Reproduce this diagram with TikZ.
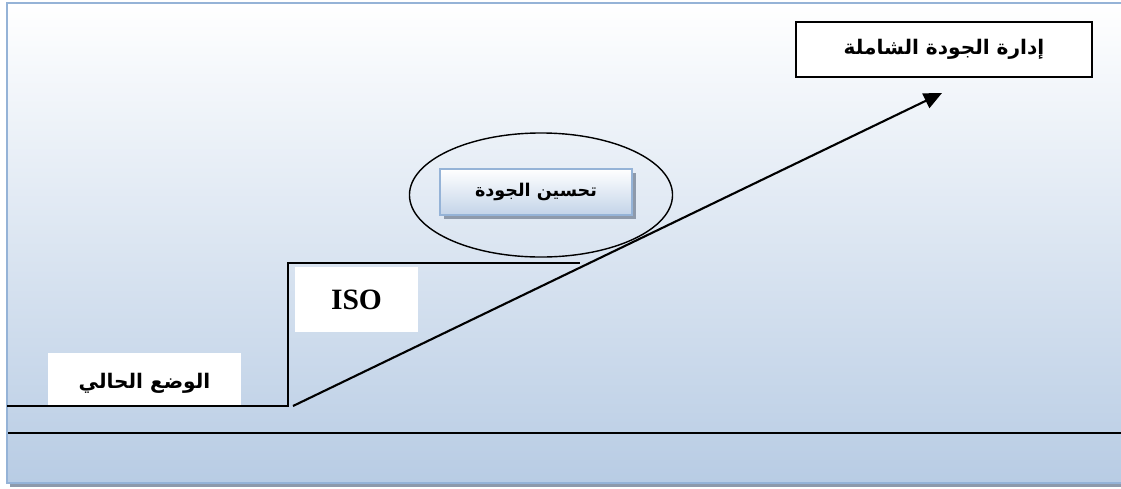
\documentclass[tikz,border=0pt]{standalone}
\usepackage{fontspec}
\setmainfont{Liberation Serif}
\newfontfamily\arabicfont[Script=Arabic]{DejaVu Sans}
\TeXXeTstate=1
\usetikzlibrary{positioning, arrows.meta, shadows, shapes.geometric}
\definecolor{panelblue}{HTML}{B8CCE4}
\definecolor{panelborder}{HTML}{95B3D7}
\definecolor{shadowgray}{HTML}{8E9AAB}
\tikzstyle{textbox} = [rectangle, fill=white, inner sep=0pt]
\tikzstyle{goal} = [rectangle, draw, line width=1.2pt, fill=white, minimum width=7.4cm, minimum height=1.375cm]
\tikzstyle{bubble} = [ellipse, draw, line width=1pt, minimum width=6.575cm, minimum height=3.1cm]
\tikzstyle{tag} = [rectangle, draw=panelborder, line width=1.5pt, top color=white, bottom color=panelblue!85,
  minimum width=4.8cm, minimum height=1.15cm,
  drop shadow={shadow xshift=3pt, shadow yshift=-3pt, fill=shadowgray, opacity=1}]
\tikzstyle{stairs} = [line width=1.5pt]
\tikzstyle{arrow} = [line width=1.5pt, -{Triangle[length=0.45cm, width=0.4cm]}]
\newcommand{\artext}[2][14.3]{{\arabicfont\bfseries\fontsize{#1}{16}\selectfont\beginR #2\endR}}

\begin{document}
\begin{tikzpicture}[x=0.025cm, y=-0.025cm]

  \useasboundingbox (0,0) rectangle (1121,488);

  % Background panel
  \fill[shadowgray] (10,6) rectangle (1130,487);
  \shade[top color=white, bottom color=panelblue, draw=panelborder, line width=2pt] (7,3) rectangle (1130,483);

  % Bottom line
  \coordinate (ground_l) at (8,433);
  \coordinate (ground_r) at (1121,433);
  \draw[line width=1.5pt] (ground_l) -- (ground_r);

  % Stair steps
  \coordinate (now_l) at (7,406);
  \coordinate (now_r) at (288,406);
  \coordinate (iso_l) at (288,263);
  \coordinate (iso_r) at (580,263);
  \draw[stairs] (now_l) -- (now_r) -- (iso_l) -- (iso_r);

  % Labels
  \node (now) [textbox, minimum width=4.825cm, minimum height=1.3cm] at (144.5,379) {};
  \node (now_text) at (144.5,383) {\artext{الوضع الحالي}};
  \node (iso) [textbox, minimum width=3.075cm, minimum height=1.625cm] at (356.5,299.5) {\fontsize{21}{24}\selectfont\bfseries ISO};

  % Improvement
  \node (improve_ring) [bubble] at (541,195) {};
  \node (improve) [tag] at (536,192) {\artext[12.5]{تحسين الجودة}};

  % Goal
  \node (tqm) [goal] at (944,49.5) {\artext{إدارة الجودة الشاملة}};

  % Arrow
  \coordinate (rise_start) at (293,406);
  \coordinate (rise_end) at (942,93);
  \draw[arrow] (rise_start) -- (rise_end);

\end{tikzpicture}
\end{document}
